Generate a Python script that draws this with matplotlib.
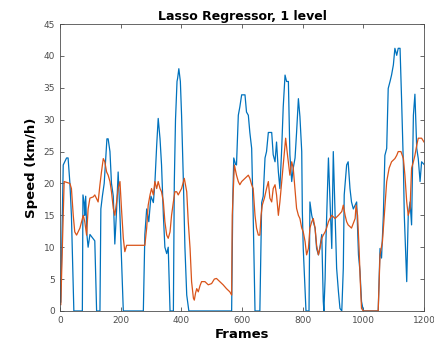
import matplotlib
matplotlib.use("Agg")
import matplotlib.pyplot as plt

true_frames = [3, 8, 11, 22, 27, 33, 38, 46, 74, 76, 80, 82, 85, 89, 93, 99, 115, 121,
               132, 135, 140, 146, 151, 155, 159, 165, 170, 176, 181, 187, 192, 198, 203, 209,
               275, 280, 286, 293, 300, 308, 313, 319, 324, 330, 335, 341, 346, 352, 357, 363,
               374, 377, 381, 386, 388, 392, 397, 401, 407, 412, 418, 425,
               566, 570, 573, 579, 582, 588, 593, 599, 610, 615, 621, 626, 632, 637, 643,
               659, 665, 670, 676, 681, 687, 698, 703, 709, 714, 720, 725, 731, 736, 742, 747,
               753, 758, 764, 769, 775, 780, 786, 791, 797, 799, 802, 808, 811,
               821, 824, 830, 835, 841, 846, 852, 857, 863, 868, 870, 874, 876, 885, 890, 896,
               901, 907, 912, 918, 923, 929, 934, 937, 945, 950, 956, 961, 967, 978, 984, 989,
               994, 1000, 1049, 1055, 1060, 1066, 1071, 1077, 1082, 1088, 1093, 1099, 1104,
               1110, 1115, 1121, 1126, 1132, 1135, 1137, 1143, 1148, 1154, 1159, 1165, 1170,
               1176, 1181, 1187, 1192, 1200]
true_speed = [1.4, 15, 22.9, 24, 24, 20, 15, 0, 0, 18.2, 17, 15, 18, 12, 10, 12, 11, 0,
              0, 16, 18, 20, 24, 27, 27, 25, 20, 18, 10.5, 16, 21.8, 15, 8, 0,
              0, 12, 16, 14, 18, 17, 20, 26, 30.2, 27, 22.9, 15, 10, 9, 10, 0,
              0, 20, 30, 36, 36.5, 38, 36, 30.7, 20.3, 10, 2.5, 0,
              0, 18, 24, 23, 22.9, 30.7, 32, 33.9, 33.9, 31.2, 30.7, 28, 25.5, 15, 0,
              0, 17, 18, 24, 25, 28, 28, 24.5, 23.4, 26.5, 21.8, 19.2, 25.5, 32, 37, 36,
              36, 24.5, 20.3, 22.4, 24, 28, 33.3, 30.5, 25, 15.6, 9.8, 3, 0,
              0, 17.1, 15, 14, 13, 9.8, 8.8, 10, 12, 1.5, 0, 5, 9.8, 24, 17.7, 9.8,
              25, 15, 6.7, 3, 0.4, 0, 6.7, 18.2, 22.9, 23.4, 19.2, 17.1, 16, 17.1, 8.8, 6.2,
              1.5, 0, 0, 9.8, 8.3, 15, 24.4, 25.5, 34.9, 36, 37, 38.6, 41.2,
              40.1, 41.2, 41.2, 33.3, 22.9, 15, 12.4, 4.6, 15, 17.1, 13.5, 30.7, 34,
              25.5, 23.9, 20.3, 23.4, 23]

# lasso prediction (orange)
pred_frames = [3, 8, 14, 33, 38, 44, 49, 55, 66, 77, 82, 88, 93, 99, 110, 115, 126, 132,
               137, 143, 148, 154, 159, 165, 170, 176, 181, 187, 192, 198, 203, 209, 214, 220,
               280, 286, 291, 297, 302, 308, 313, 319, 324, 330, 335, 341, 346, 352, 357, 363,
               368, 374, 379, 385, 390, 401, 410, 418, 423, 429, 434, 440, 443, 447, 451, 456,
               462, 467, 478, 489, 500, 509, 516, 527, 538, 549, 560, 566, 568, 575, 582, 588,
               593, 599, 610, 621, 626, 632, 637, 643, 648, 654, 659, 663, 667, 674, 681, 687,
               692, 698, 703, 709, 714, 720, 725, 731, 736, 744, 750, 758, 764, 769, 775, 780,
               786, 791, 797, 802, 808, 813, 819, 824, 830, 835, 841, 846, 852, 857, 863, 868,
               874, 879, 885, 890, 896, 907, 918, 929, 934, 940, 945, 950, 961, 973, 976, 981,
               986, 990, 994, 1000, 1049, 1055, 1063, 1069, 1077, 1085, 1093, 1104, 1110, 1115,
               1124, 1132, 1137, 1143, 1148, 1154, 1159, 1165, 1170, 1176, 1181, 1192, 1200]
pred_speed = [1, 10, 20.3, 20, 19.2, 15, 12.4, 11.9, 13, 15, 14, 11.9, 16, 17.7, 17.9, 18.2, 17.1, 19.8,
              21.8, 23.9, 23.4, 21.8, 21.3, 20.3, 18.7, 16.1, 15, 17.1, 19.2, 20.3, 16, 11.4, 9.3, 10.3,
              10.3, 13, 16.6, 18.2, 19.2, 18.2, 20.3, 19.2, 20.3, 19.2, 18.7, 17.1, 14, 11.9, 11.4, 12.4,
              15, 17.1, 18.7, 18.7, 18.2, 19.2, 20.8, 18.7, 14, 9.8, 4.6, 2, 1.7, 2.8, 3.5, 3,
              4, 4.6, 4.6, 4.1, 4.3, 5, 5.1, 4.6, 4.1, 3.5, 3.0, 2.5, 15, 22.9, 21.3, 20.3,
              19.8, 20.3, 20.8, 21.3, 20.8, 19.8, 19.2, 15, 13, 11.9, 11.9, 15, 16.6, 17.7, 19.2, 20.3,
              17.7, 17.1, 19.2, 19.8, 18.2, 15, 17.1, 20.3, 22.9, 27.1, 24.5, 21.3, 23.4, 22.4, 19, 16.1,
              15, 14.5, 13, 12.4, 10.9, 8.8, 9.8, 13, 14, 14.5, 13, 10.3, 8.8, 9.8, 11.4, 11.9,
              12.4, 13, 14, 14.5, 15, 14.5, 15, 15.6, 16.6, 15, 14, 13.5, 13, 14.5, 16.6, 15,
              9.8, 4.6, 0.4, 0, 0, 8.8, 10.9, 15, 20.3, 22.4, 23.4, 23.9, 24.4, 25,
              25, 23.9, 21.3, 17.1, 15, 16.1, 22.4, 23.4, 24.4, 26, 27.1, 27.1, 26.5]

fig = plt.figure(figsize=(4.34, 3.49), dpi=100)
ax = fig.add_axes([0.138, 0.109, 0.839, 0.822])

ax.plot(true_frames, true_speed, color="#0072BD", linewidth=0.9)
ax.plot(pred_frames, pred_speed, color="#D95319", linewidth=0.9)

ax.set_xlim(0, 1200)
ax.set_ylim(0, 45)
ax.set_xticks(range(0, 1201, 200))
ax.set_yticks(range(0, 46, 5))
ax.tick_params(direction="in", top=True, right=True, labelsize=6.5, colors="#4d4d4d",
               length=3, width=0.6)
for s in ax.spines.values():
    s.set_linewidth(0.6)
    s.set_color("#4d4d4d")

ax.set_title("Lasso Regressor, 1 level", fontsize=9, fontweight="bold", pad=3)
ax.set_xlabel("Frames", fontsize=9.5, fontweight="bold", labelpad=2)
ax.set_ylabel("Speed (km/h)", fontsize=9.5, fontweight="bold", labelpad=4)

fig.savefig("out.png", dpi=100)
